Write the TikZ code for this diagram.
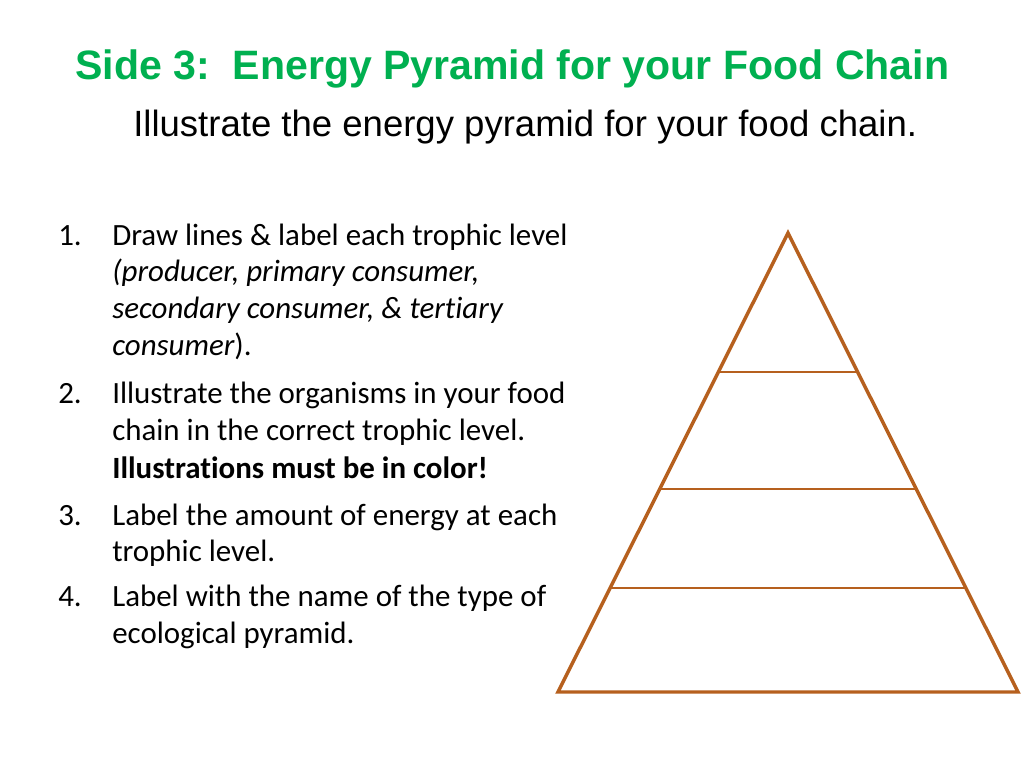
\documentclass[tikz,border=0pt]{standalone}
\usepackage{fontspec}
\setmainfont{Carlito}[RawFeature={-liga}]
\newfontfamily\arialfont{Liberation Sans}
\usetikzlibrary{calc}
\definecolor{titlegreen}{RGB}{0,176,80}
\definecolor{pyrbrown}{RGB}{182,96,30}
\tikzset{
  title/.style={anchor=base west, inner sep=0pt, text=titlegreen, font=\arialfont\bfseries\fontsize{30.8}{34}\selectfont},
  subtitle/.style={anchor=base west, inner sep=0pt, font=\arialfont\fontsize{27.4}{30}\selectfont},
  body/.style={anchor=base west, inner sep=0pt, font=\fontsize{23.2}{26}\selectfont},
  outer/.style={draw=pyrbrown, line width=2.6pt, line join=miter},
  level/.style={draw=pyrbrown, line width=1.8pt},
}
\begin{document}
\begin{tikzpicture}[x=0.75pt,y=-0.75pt]
\useasboundingbox (0,0) rectangle (1024,768);
\fill[white] (0,0) rectangle (1024,768);
% title and subtitle
\node[title] (t) at (75,79) {Side 3:\ \ Energy Pyramid for your Food Chain};
\node[subtitle] (st) at (133,136) {Illustrate the energy pyramid for your food chain.};
% list numbers
\node[body] (n1) at (58,245) {1.};
\node[body] (n2) at (58,403) {2.};
\node[body] (n3) at (58,525) {3.};
\node[body] (n4) at (58,606) {4.};
% list text
\node[body] (l1) at (112,245) {Draw lines \& label each trophic level};
\node[body] (l2) at (112,281) {\itshape (producer, primary consumer,};
\node[body] (l3) at (112,318) {\itshape secondary consumer, \& tertiary};
\node[body] (l4) at (112,355) {{\itshape consumer}).};
\node[body] (l5) at (112,403) {Illustrate the organisms in your food};
\node[body] (l6) at (112,440) {chain in the correct trophic level.};
\node[body] (l7) at (112,478) {\bfseries Illustrations must be in color!};
\node[body] (l8) at (112,525) {Label the amount of energy at each};
\node[body] (l9) at (112,561) {trophic level.};
\node[body] (l10) at (112,606) {Label with the name of the type of};
\node[body] (l11) at (112,643) {ecological pyramid.};
% pyramid
\coordinate (apex) at (788,233);
\coordinate (bl) at (558,692);
\coordinate (br) at (1018,692);
\draw[outer] (apex) -- (bl) -- (br) -- cycle;
\foreach \t/\n in {0.303/a,0.558/b,0.773/c}{
  \coordinate (L\n) at ($(apex)!\t!(bl)$);
  \coordinate (R\n) at ($(apex)!\t!(br)$);
  \draw[level] (L\n) -- (R\n);
}
\end{tikzpicture}
\end{document}
